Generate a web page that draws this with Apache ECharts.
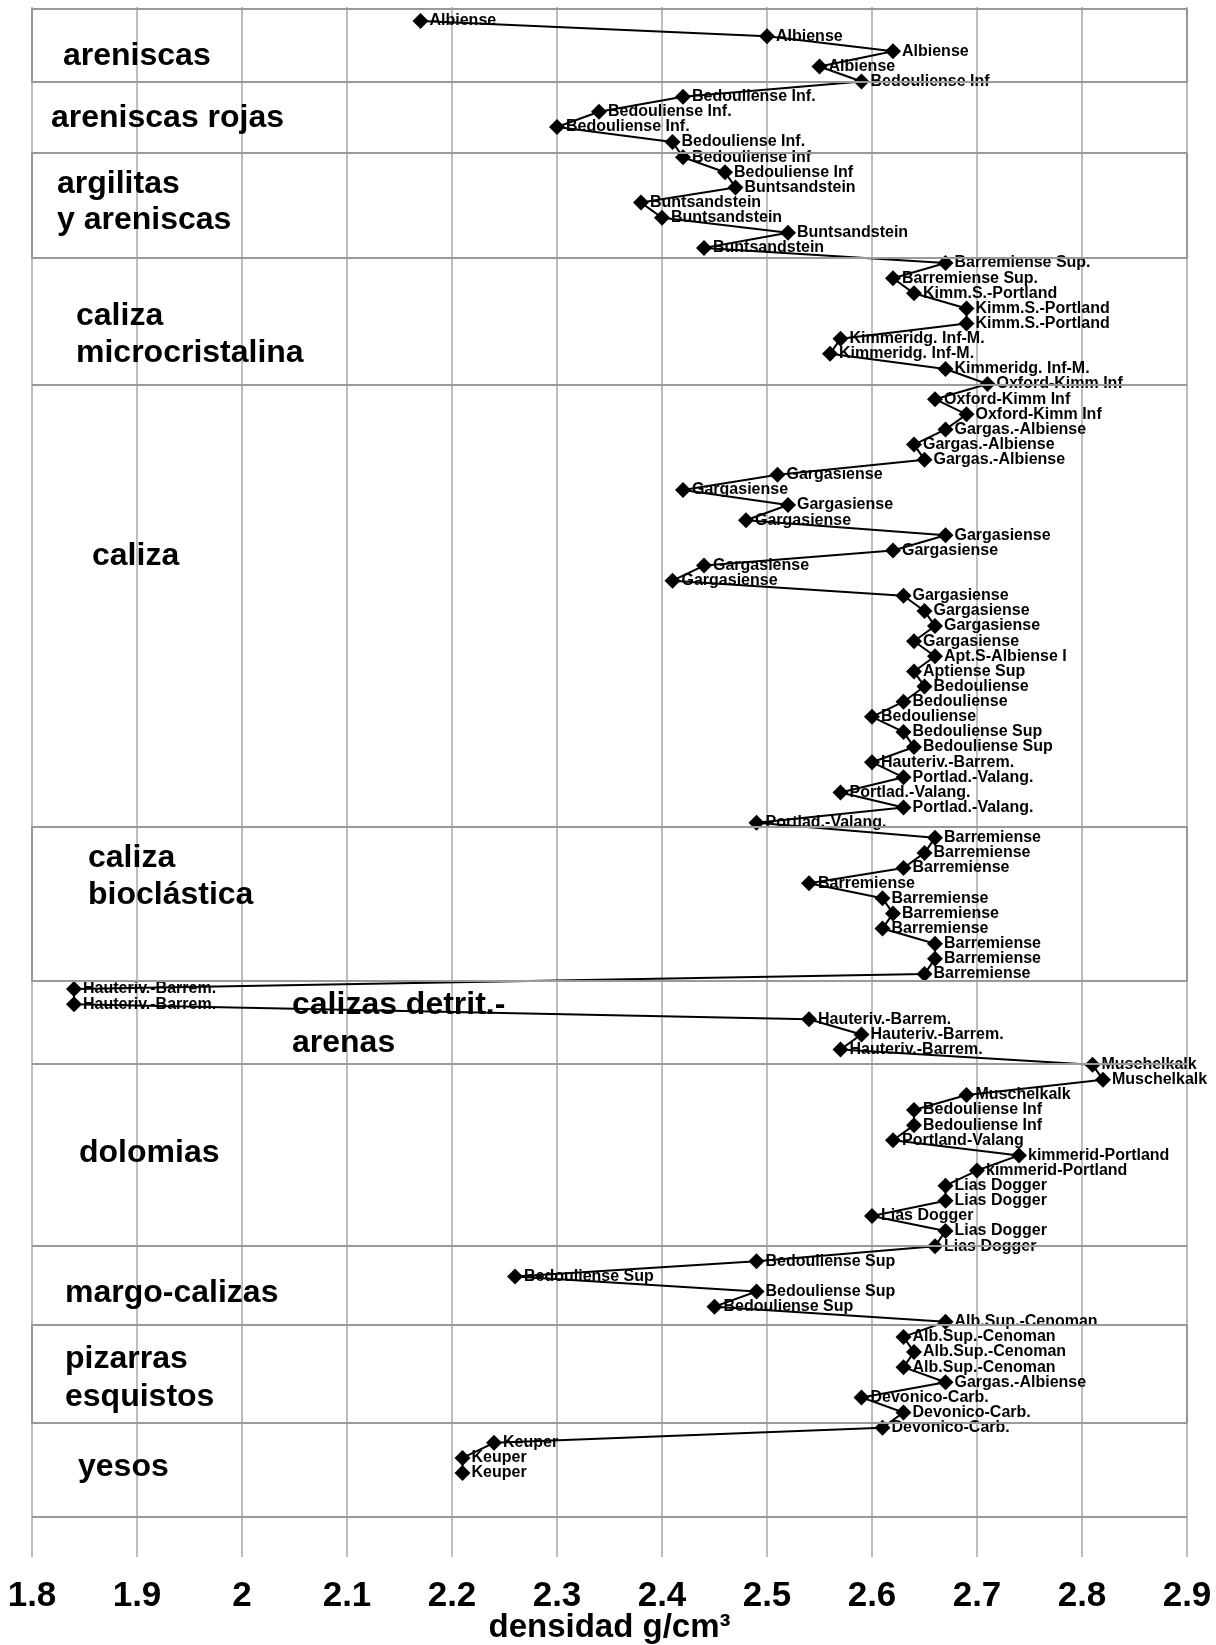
<!DOCTYPE html>
<html><head><meta charset="utf-8">
<script src="https://cdn.jsdelivr.net/npm/echarts@6/dist/echarts.min.js"></script>
<style>html,body{margin:0;padding:0;background:#fff}#c{width:1216px;height:1645px}</style>
</head><body><div id="c"></div>
<script>
// densidad (g/cm3) of each sample, top to bottom
const densities = [
  2.17, 2.50, 2.62, 2.55, 2.59, 2.42, 2.34, 2.30, 2.41, 2.42,
  2.46, 2.47, 2.38, 2.40, 2.52, 2.44, 2.67, 2.62, 2.64, 2.69,
  2.69, 2.57, 2.56, 2.67, 2.71, 2.66, 2.69, 2.67, 2.64, 2.65,
  2.51, 2.42, 2.52, 2.48, 2.67, 2.62, 2.44, 2.41, 2.63, 2.65,
  2.66, 2.64, 2.66, 2.64, 2.65, 2.63, 2.60, 2.63, 2.64, 2.60,
  2.63, 2.57, 2.63, 2.49, 2.66, 2.65, 2.63, 2.54, 2.61, 2.62,
  2.61, 2.66, 2.66, 2.65, 1.84, 1.84, 2.54, 2.59, 2.57, 2.81,
  2.82, 2.69, 2.64, 2.64, 2.62, 2.74, 2.70, 2.67, 2.67, 2.60,
  2.67, 2.66, 2.49, 2.26, 2.49, 2.45, 2.67, 2.63, 2.64, 2.63,
  2.67, 2.59, 2.63, 2.61, 2.24, 2.21, 2.21
];
// geological unit of each sample
const units = [
  'Albiense','Albiense','Albiense','Albiense','Bedouliense Inf','Bedouliense Inf.','Bedouliense Inf.','Bedouliense Inf.','Bedouliense Inf.','Bedouliense Inf',
  'Bedouliense Inf','Buntsandstein','Buntsandstein','Buntsandstein','Buntsandstein','Buntsandstein','Barremiense Sup.','Barremiense Sup.','Kimm.S.-Portland','Kimm.S.-Portland',
  'Kimm.S.-Portland','Kimmeridg. Inf-M.','Kimmeridg. Inf-M.','Kimmeridg. Inf-M.','Oxford-Kimm Inf','Oxford-Kimm Inf','Oxford-Kimm Inf','Gargas.-Albiense','Gargas.-Albiense','Gargas.-Albiense',
  'Gargasiense','Gargasiense','Gargasiense','Gargasiense','Gargasiense','Gargasiense','Gargasiense','Gargasiense','Gargasiense','Gargasiense',
  'Gargasiense','Gargasiense','Apt.S-Albiense I','Aptiense Sup','Bedouliense','Bedouliense','Bedouliense','Bedouliense Sup','Bedouliense Sup','Hauteriv.-Barrem.',
  'Portlad.-Valang.','Portlad.-Valang.','Portlad.-Valang.','Portlad.-Valang.','Barremiense','Barremiense','Barremiense','Barremiense','Barremiense','Barremiense',
  'Barremiense','Barremiense','Barremiense','Barremiense','Hauteriv.-Barrem.','Hauteriv.-Barrem.','Hauteriv.-Barrem.','Hauteriv.-Barrem.','Hauteriv.-Barrem.','Muschelkalk',
  'Muschelkalk','Muschelkalk','Bedouliense Inf','Bedouliense Inf','Portland-Valang','kimmerid-Portland','kimmerid-Portland','Lias Dogger','Lias Dogger','Lias Dogger',
  'Lias Dogger','Lias Dogger','Bedouliense Sup','Bedouliense Sup','Bedouliense Sup','Bedouliense Sup','Alb.Sup.-Cenoman','Alb.Sup.-Cenoman','Alb.Sup.-Cenoman','Alb.Sup.-Cenoman',
  'Gargas.-Albiense','Devonico-Carb.','Devonico-Carb.','Devonico-Carb.','Keuper','Keuper','Keuper'
];
// lithology zones: names and boundaries (in sample-index units)
const zoneNames = ['areniscas','areniscas rojas','argilitas\ny areniscas','caliza\nmicrocristalina','caliza','caliza\nbioclástica','calizas detrit.-\narenas','dolomias','margo-calizas','pizarras\nesquistos','yesos'];
const zoneBounds = [-0.79, 4.03, 8.73, 15.67, 24.07, 53.29, 63.47, 68.96, 80.99, 86.21, 92.69, 98.91];
const boxedZones = [0, 2, 5, 9];
const xMin = 1.8, xMax = 2.9, xStep = 0.1;
const axisTitle = 'densidad g/cm³';

const chart = echarts.init(document.getElementById('c'), null, {renderer: 'canvas'});
const seriesData = densities.map((d, i) => ({value: [d, i], name: units[i]}));
const FONT = '"Liberation Sans", Arial, sans-serif';

// zone label placement (pixels): [left, middle y of each line]
const zoneLabelPos = [
  [63, [56]], [51, [118]], [57, [184, 220]], [76, [316, 353]], [92, [556]],
  [88, [858, 895]], [292, [1005, 1043]], [79, [1153]], [65, [1293]], [65, [1359, 1397]], [78, [1467]]
];
const graphics = [];
zoneNames.forEach((n, k) => {
  const lines = n.split('\n');
  const pos = zoneLabelPos[k];
  lines.forEach((t, j) => {
    graphics.push({
      type: 'text', x: pos[0], y: pos[1][j], z: 10,
      style: {text: t, fill: '#000', fontFamily: FONT, fontWeight: 'bold', fontSize: 32, verticalAlign: 'middle', align: 'left'}
    });
  });
});

chart.setOption({
  animation: false,
  backgroundColor: '#fff',
  grid: {left: 32, right: 29, top: 7, bottom: 88, containLabel: false, outerBoundsMode: 'none'},
  xAxis: {
    type: 'value', min: xMin, max: xMax, interval: xStep,
    name: axisTitle, nameLocation: 'middle', nameGap: 54, nameMoveOverlap: false,
    nameTextStyle: {fontFamily: FONT, fontWeight: 'bold', fontSize: 33, color: '#000'},
    axisLine: {show: false}, axisTick: {show: false},
    axisLabel: {margin: 22, fontFamily: FONT, fontWeight: 'bold', fontSize: 35, color: '#000'},
    splitLine: {show: true, lineStyle: {color: '#a8a8a8', width: 1.5}}
  },
  yAxis: {
    type: 'value', inverse: true, min: -0.93, max: 101.55, show: false,
    splitLine: {show: false}
  },
  graphic: graphics,
  series: [{
    type: 'line',
    data: seriesData,
    symbol: 'diamond', symbolSize: 16,
    itemStyle: {color: '#000'},
    lineStyle: {color: '#000', width: 2},
    label: {show: true, position: 'right', distance: 1, formatter: '{b}', color: '#000',
      fontFamily: FONT, fontWeight: 'bold', fontSize: 16},
    markLine: {
      silent: true, symbol: 'none', label: {show: false},
      lineStyle: {color: '#9a9a9a', width: 2, type: 'solid'},
      data: zoneBounds.map(b => ({yAxis: b}))
    },
    markArea: {
      silent: true,
      itemStyle: {color: 'rgba(0,0,0,0)', borderColor: '#8a8a8a', borderWidth: 1.5},
      data: boxedZones.map(z => [{xAxis: xMin, yAxis: zoneBounds[z]}, {xAxis: xMax, yAxis: zoneBounds[z + 1]}])
    }
  }]
});
</script>
</body></html>
